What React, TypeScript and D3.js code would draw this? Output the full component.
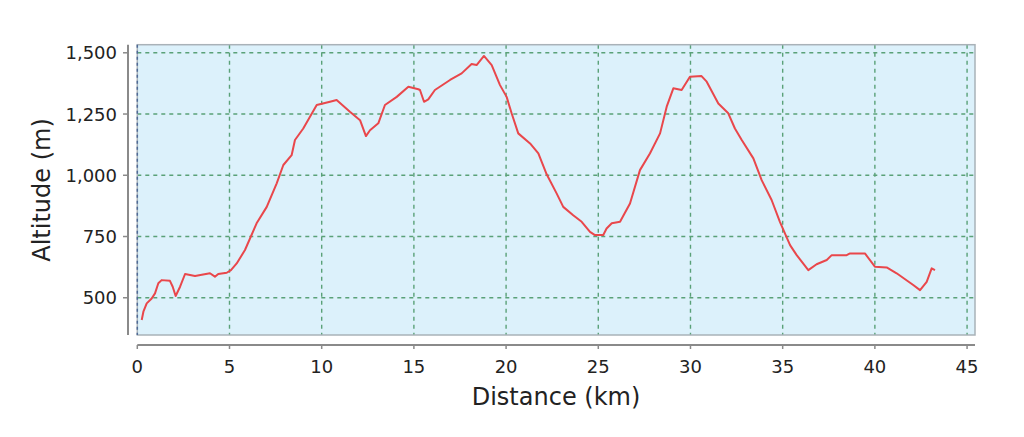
import React from "react";
import * as d3 from "d3";

const distanceKm = [
  0.24, 0.33, 0.51, 0.78, 0.96, 1.14, 1.32, 1.77, 1.92, 2.08, 2.32, 2.59, 3.13, 3.94,
  4.21, 4.39, 4.85, 5.08, 5.39, 5.84, 6.47, 7.02, 7.56, 7.92, 8.37, 8.55, 9.0, 9.73,
  10.45, 10.81, 11.53, 12.08, 12.4, 12.62, 13.07, 13.43, 14.07, 14.7, 15.24, 15.33,
  15.55, 15.78, 16.14, 16.96, 17.59, 18.13, 18.4, 18.8, 19.22, 19.67, 20.03, 20.3,
  20.66, 21.3, 21.75, 22.2, 22.74, 23.1, 23.64, 24.1, 24.55, 24.82, 25.27, 25.45,
  25.73, 26.18, 26.72, 27.26, 27.8, 28.35, 28.71, 29.07, 29.52, 29.97, 30.6, 30.88,
  31.51, 32.05, 32.41, 32.78, 33.41, 33.86, 34.4, 34.85, 35.4, 35.76, 36.39, 36.84,
  37.39, 37.66, 38.47, 38.65, 39.46, 40.0, 40.64, 41.18, 42.08, 42.45, 42.81, 43.08,
  43.26,
];
const altitudeM = [
  409, 443, 477, 497, 518, 559, 572, 569, 545, 507, 545, 597, 589, 600,
  586, 597, 602, 613, 640, 695, 804, 871, 967, 1042, 1082, 1144, 1191, 1287,
  1300, 1307, 1259, 1225, 1160, 1184, 1212, 1287, 1320, 1361, 1351, 1348,
  1300, 1310, 1348, 1389, 1416, 1454, 1450, 1487, 1450, 1368, 1320, 1253,
  1171, 1130, 1089, 1004, 926, 871, 837, 810, 769, 756, 756, 783,
  804, 810, 885, 1021, 1089, 1171, 1280, 1355, 1348, 1402, 1405, 1382,
  1293, 1253, 1191, 1144, 1069, 980, 899, 810, 715, 674, 613, 637,
  654, 674, 674, 681, 681, 627, 624, 600, 552, 531, 565, 620,
  613,
];
const xTicks = [0, 5, 10, 15, 20, 25, 30, 35, 40, 45];
const yTicks = [500, 750, 1000, 1250, 1500];
const xLabel = "Distance (km)";
const yLabel = "Altitude (m)";

const W = 1024;
const H = 437;
const plotL = 137.3;
const plotR = 975;
const plotT = 44.7;
const plotB = 335;
const FONT = "DejaVu Sans, Verdana, sans-serif";

export default function App() {
  const x = d3.scaleLinear().domain([0, 45.43]).range([plotL, plotR]);
  const y = d3.scaleLinear().domain([348, 1533]).range([plotB, plotT]);
  const pts: [number, number][] = distanceKm.map((d, i) => [d, altitudeM[i]]);
  const line = d3
    .line<[number, number]>()
    .x((d) => x(d[0]))
    .y((d) => y(d[1]));
  const fmt = d3.format(",");
  const axisY = 345;
  const axisX = 128;
  return (
    <div style={{ position: "absolute", left: 0, top: 0 }}>
      <svg width={W} height={H} style={{ display: "block", background: "#fff" }}>
        <rect x={plotL} y={plotT} width={plotR - plotL} height={plotB - plotT} fill="#dcf1fb" />
        {xTicks.filter((t) => t > 0).map((t) => (
          <line key={"gx" + t} x1={x(t)} x2={x(t)} y1={plotT} y2={plotB}
            stroke="#5aa178" strokeWidth={1.4} strokeDasharray="4,4" />
        ))}
        {yTicks.map((t) => (
          <line key={"gy" + t} x1={plotL} x2={plotR} y1={y(t)} y2={y(t)}
            stroke="#5aa178" strokeWidth={1.4} strokeDasharray="4,4" />
        ))}
        <rect x={plotL} y={plotT} width={plotR - plotL} height={plotB - plotT}
          fill="none" stroke="#a9b2b8" strokeWidth={1.5} />
        <line x1={x(0)} x2={x(0)} y1={plotT} y2={plotB} stroke="#4f6a96"
          strokeWidth={1.5} strokeDasharray="3,3" />
        <path d={line(pts) || ""} fill="none" stroke="#e9474b" strokeWidth={2}
          strokeLinejoin="round" />
        <line x1={axisX} x2={axisX} y1={plotT} y2={plotB} stroke="#8a8a8a" strokeWidth={2} />
        {yTicks.map((t) => (
          <g key={"yt" + t}>
            <line x1={axisX - 5} x2={axisX} y1={y(t)} y2={y(t)} stroke="#8a8a8a" strokeWidth={1.5} />
            <text x={117} y={y(t) + 6.5} textAnchor="end" fontFamily={FONT} fontSize={18} fill="#222">
              {fmt(t)}
            </text>
          </g>
        ))}
        <line x1={plotL} x2={plotR} y1={axisY} y2={axisY} stroke="#8a8a8a" strokeWidth={2} />
        {xTicks.map((t) => (
          <g key={"xt" + t}>
            <line x1={x(t)} x2={x(t)} y1={axisY} y2={axisY + 4} stroke="#8a8a8a" strokeWidth={1.5} />
            <text x={x(t)} y={373} textAnchor="middle" fontFamily={FONT} fontSize={18} fill="#222">
              {t}
            </text>
          </g>
        ))}
        <text x={556} y={405} textAnchor="middle" fontFamily={FONT} fontSize={24} fill="#222">
          {xLabel}
        </text>
        <text transform="translate(50,190) rotate(-90)" textAnchor="middle" fontFamily={FONT}
          fontSize={24} fill="#222">
          {yLabel}
        </text>
      </svg>
    </div>
  );
}
